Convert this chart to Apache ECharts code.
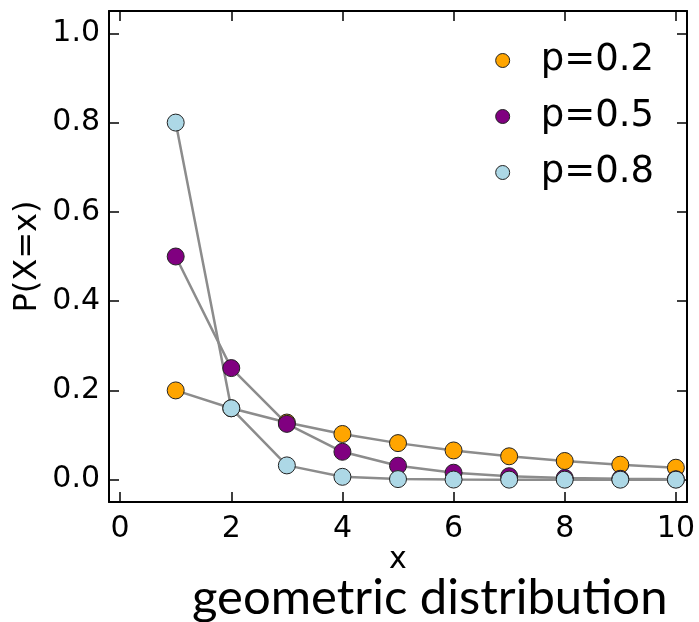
<!DOCTYPE html>
<html><head><meta charset="utf-8">
<script src="https://cdn.jsdelivr.net/npm/echarts@6/dist/echarts.min.js"></script>
<style>html,body{margin:0;padding:0;background:#fff}#c{width:699px;height:622px}</style>
</head><body><div id="c"></div>
<script>
const xValues = [1, 2, 3, 4, 5, 6, 7, 8, 9, 10];
const p02 = [0.2, 0.16, 0.128, 0.1024, 0.0819, 0.0655, 0.0524, 0.0419, 0.0336, 0.0268];
const p05 = [0.5, 0.25, 0.125, 0.0625, 0.0313, 0.0156, 0.0078, 0.0039, 0.002, 0.001];
const p08 = [0.8, 0.16, 0.032, 0.0064, 0.0013, 0.0003, 0.0001, 0.0, 0.0, 0.0];
const seriesNames = ['p=0.2', 'p=0.5', 'p=0.8'];
const seriesColors = ['#FFA500', '#800080', '#ADD8E6'];
const xTicks = [0, 2, 4, 6, 8, 10];
const yTicks = [0.0, 0.2, 0.4, 0.6, 0.8, 1.0];

const F = 'DejaVu Sans';
const allData = [p02, p05, p08];
const pairs = d => xValues.map((x, i) => [x, d[i]]);

function axisX(pos, show) {
  return {
    type: 'value', position: pos, min: -0.2, max: 10.2,
    axisLine: { show: true, onZero: false, lineStyle: { color: '#000', width: 2 } },
    axisTick: { show: true, inside: true, length: 10, customValues: xTicks, lineStyle: { color: '#000', width: 1.5 } },
    axisLabel: { show: show, customValues: xTicks, fontFamily: F, fontSize: 30, color: '#000', margin: 12 },
    splitLine: { show: false },
    name: show ? 'x' : '', nameLocation: 'middle', nameGap: 43, nameMoveOverlap: false,
    nameTextStyle: { fontFamily: F, fontSize: 30, color: '#000' }
  };
}
function axisY(pos, show) {
  return {
    type: 'value', position: pos, min: -0.05, max: 1.05,
    axisLine: { show: true, onZero: false, lineStyle: { color: '#000', width: 2 } },
    axisTick: { show: true, inside: true, length: 10, customValues: yTicks, lineStyle: { color: '#000', width: 1.5 } },
    axisLabel: { show: show, customValues: yTicks, fontFamily: F, fontSize: 30, color: '#000', margin: 9,
      formatter: v => v.toFixed(1) },
    splitLine: { show: false },
    name: show ? 'P(X=x)' : '', nameLocation: 'middle', nameGap: 65, nameRotate: 90, nameMoveOverlap: false,
    nameTextStyle: { fontFamily: F, fontSize: 32, color: '#000' }
  };
}

const series = [];
allData.forEach((d, i) => {
  series.push({
    type: 'line', name: 'line' + i, data: pairs(d), showSymbol: false, symbol: 'none',
    lineStyle: { color: '#8c8c8c', width: 2.5 }, z: 2, silent: true, animation: false
  });
});
allData.forEach((d, i) => {
  series.push({
    type: 'scatter', name: seriesNames[i], data: pairs(d), symbol: 'circle', symbolSize: 17,
    itemStyle: { color: seriesColors[i], borderColor: '#222', borderWidth: 1, opacity: 1 },
    z: 3, animation: false
  });
});

const chart = echarts.init(document.getElementById('c'));
chart.setOption({
  animation: false,
  grid: { left: 109, right: 12, top: 11, bottom: 120, containLabel: false, outerBoundsMode: 'none' },
  xAxis: [axisX('bottom', true), axisX('top', false)],
  yAxis: [axisY('left', true), axisY('right', false)],
  legend: {
    data: seriesNames, orient: 'vertical', right: 40, top: 37,
    icon: 'circle', itemWidth: 14, itemHeight: 14, itemGap: 19,
    textStyle: { fontFamily: F, fontSize: 37, color: '#000', padding: [0, 0, 0, 26] },
    itemStyle: { borderColor: '#222', borderWidth: 1 }
  },
  title: {
    text: 'geometric distribution', left: 187, top: 569,
    textStyle: { fontFamily: 'Lato', fontSize: 49, fontWeight: 'normal', color: '#000' }
  },
  series: series
});
</script></body></html>
